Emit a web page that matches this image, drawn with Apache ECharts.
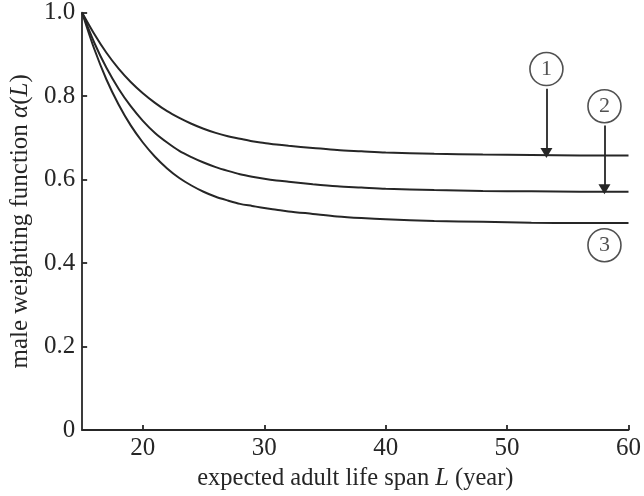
<!DOCTYPE html>
<html>
<head>
<meta charset="utf-8">
<script src="https://cdn.jsdelivr.net/npm/echarts@6/dist/echarts.min.js"></script>
<style>html,body{margin:0;padding:0;background:#fff}#c{width:644px;height:496px}</style>
</head>
<body>
<div id="c"></div>
<script>
// Data
var L = [15, 16, 17, 18, 19, 20, 21, 22, 23, 24, 25, 26, 27, 28, 29, 30, 31, 32, 34, 36, 38, 40, 44, 48, 52, 56, 60];
var curve1 = [1.0, 0.949, 0.904, 0.866, 0.834, 0.807, 0.784, 0.764, 0.748, 0.734, 0.722, 0.712, 0.704, 0.698, 0.692, 0.688, 0.684, 0.681, 0.676, 0.671, 0.668, 0.665, 0.662, 0.660, 0.659, 0.658, 0.658];
var curve2 = [1.0, 0.928, 0.868, 0.818, 0.776, 0.741, 0.712, 0.689, 0.669, 0.654, 0.641, 0.630, 0.621, 0.613, 0.607, 0.602, 0.598, 0.595, 0.589, 0.584, 0.581, 0.578, 0.575, 0.573, 0.572, 0.571, 0.571];
var curve3 = [1.0, 0.913, 0.840, 0.780, 0.730, 0.689, 0.655, 0.627, 0.604, 0.586, 0.571, 0.559, 0.550, 0.542, 0.537, 0.532, 0.528, 0.524, 0.518, 0.512, 0.508, 0.505, 0.501, 0.499, 0.497, 0.496, 0.496];
var xTicks = [20, 30, 40, 50, 60];
var yTickLabels = ['0', '0.2', '0.4', '0.6', '0.8', '1.0'];
// annotations
var circleLabels = ['1', '2', '3'];
var circleL = [53.24, 58.02, 58.02];
var circleY = [0.865, 0.776, 0.443];
var arrowL = [53.24, 58.02];
var arrowFrom = [0.818, 0.730];
var arrowTo = [0.664, 0.577];

var ink = '#262626';
var font = 'Liberation Serif';

function pairs(ys) { return L.map(function (x, i) { return [x, ys[i]]; }); }

var series = [curve1, curve2, curve3].map(function (c) {
  return {
    type: 'line', data: pairs(c), smooth: 0.3, showSymbol: false, silent: true,
    lineStyle: { color: ink, width: 2 }
  };
});

series.push({
  type: 'scatter',
  data: circleLabels.map(function (t, i) { return { value: [circleL[i], circleY[i]], name: t }; }),
  symbol: 'circle', symbolSize: 33, silent: true, z: 5,
  itemStyle: { color: '#fff', borderColor: ink, borderWidth: 1.6 },
  label: { show: true, position: 'inside', formatter: function (p) { return p.name; },
    fontFamily: font, fontSize: 22, color: ink }
});

series.push({
  type: 'line', data: [], silent: true,
  markLine: {
    silent: true, animation: false,
    symbol: ['none', 'triangle'], symbolSize: [12, 10], symbolRotate: 180,
    label: { show: false },
    lineStyle: { color: ink, width: 1.8, type: 'solid' },
    data: arrowL.map(function (x, i) {
      return [{ coord: [x, arrowFrom[i]] }, { coord: [x, arrowTo[i]] }];
    })
  }
});

var chart = echarts.init(document.getElementById('c'), null, { renderer: 'canvas' });
chart.setOption({
  animation: false,
  backgroundColor: '#fff',
  grid: { left: 81, right: 13, top: 12.7, bottom: 63.3, containLabel: false },
  xAxis: {
    type: 'value', min: 15, max: 60,
    name: 'expected adult life span {i|L} (year)', nameLocation: 'middle', nameGap: 34,
    nameTextStyle: { fontFamily: font, fontSize: 24.5, color: ink,
      rich: { i: { fontFamily: font, fontStyle: 'italic', fontSize: 24.5, color: ink } } },
    axisLine: { lineStyle: { color: ink, width: 1.8 } },
    axisTick: { inside: true, length: 5, lineStyle: { color: ink, width: 1.8 }, customValues: xTicks },
    axisLabel: { fontFamily: font, fontSize: 25, color: ink, margin: 6, customValues: xTicks },
    splitLine: { show: false }
  },
  yAxis: {
    type: 'value', min: 0, max: 1, interval: 0.2,
    name: 'male weighting function {i|α}({i|L})', nameLocation: 'middle', nameGap: 45,
    nameTextStyle: { fontFamily: font, fontSize: 25, color: ink,
      rich: { i: { fontFamily: font, fontStyle: 'italic', fontSize: 25, color: ink } } },
    axisLine: { show: true, lineStyle: { color: ink, width: 1.8 } },
    axisTick: { show: true, inside: true, length: 5, lineStyle: { color: ink, width: 1.8 } },
    axisLabel: { fontFamily: font, fontSize: 25, color: ink, margin: 7,
      formatter: function (v) { return yTickLabels[Math.round(v / 0.2)]; } },
    splitLine: { show: false }
  },
  series: series
});
</script>
</body>
</html>
